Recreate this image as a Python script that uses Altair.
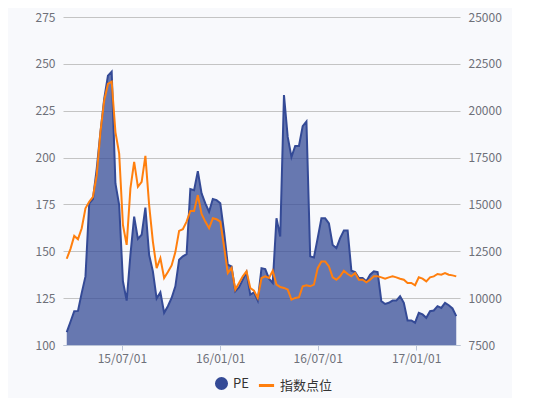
import altair as alt
import pandas as pd

START_DATE = "2015-03-20"

pe_values = [
    106.9, 112.4, 118.0, 118.2, 127.8, 136.6, 175.6, 177.9, 194.0, 213.6,
    231.3, 243.7, 245.8, 186.2, 174.7, 134.0, 123.7, 148.1, 168.5, 156.6,
    158.8, 173.3, 148.1, 139.3, 124.8, 128.1, 117.2, 120.7, 125.1, 131.3,
    145.5, 147.3, 148.5, 183.2, 182.6, 192.7, 180.9, 175.6, 171.1, 177.9,
    177.3, 175.6, 160.5, 142.8, 141.9, 128.7, 130.8, 134.9, 138.9, 126.9,
    128.1, 123.7, 141.0, 140.5, 135.4, 133.1, 167.6, 157.9, 233.4, 211.0,
    200.3, 206.2, 206.2, 216.8, 219.3, 147.3, 146.7, 157.0, 167.6, 167.6,
    164.9, 153.4, 151.7, 157.0, 161.1, 161.1, 139.6, 138.9, 135.7, 135.7,
    134.0, 137.5, 139.3, 138.9, 123.4, 121.9, 122.5, 123.7, 123.7, 126.0,
    122.5, 113.1, 113.1, 111.9, 117.2, 116.3, 114.5, 118.0, 118.4, 120.7,
    119.8, 122.5, 121.2, 119.5, 115.4,
]

index_values = [
    12101, 12632, 13322, 13145, 13729, 14790, 15145, 15410, 16560, 18861,
    20541, 21427, 21550, 18861, 17711, 13906, 12844, 15852, 17268, 15941,
    16206, 17587, 14967, 13021, 11605, 12136, 11075, 11393, 11747, 12455,
    13587, 13676, 14083, 14649, 14649, 15499, 14490, 14083, 13729, 14260,
    14207, 14083, 12756, 11340, 11605, 10455, 10809, 11163, 11429, 10544,
    10402, 10013, 11075, 11163, 11075, 11464, 10721, 10597, 10544, 10455,
    9924, 10013, 10048, 10632, 10686, 10632, 10721, 11600, 11959, 11959,
    11694, 11110, 10986, 11163, 11464, 11287, 11163, 11340, 10986, 10986,
    10845, 10986, 11163, 11163, 11110, 11039, 11110, 11163, 11110, 11039,
    10986, 10809, 10809, 10686, 11110, 11039, 10898, 11110, 11163, 11287,
    11252, 11340, 11252, 11216, 11163,
]

dates = [d.strftime("%Y-%m-%d") for d in pd.date_range(START_DATE, periods=len(pe_values), freq="7D")]

x_tick_dates = [(2015, 7, 1), (2016, 1, 1), (2016, 7, 1), (2017, 1, 1)]
pe_ticks = [100, 125, 150, 175, 200, 225, 250, 275]
idx_ticks = [7500, 10000, 12500, 15000, 17500, 20000, 22500, 25000]

df = pd.DataFrame({"date": dates, "PE": pe_values, "idx": index_values})

BLUE = "#344a96"
ORANGE = "#ff7f0e"
GRAY = "#6e7079"
FONT = "Noto Sans CJK SC"

x_enc = alt.X(
    "date:T",
    title=None,
    scale=alt.Scale(domain=[alt.DateTime(year=2015, month=3, date=13),
                            alt.DateTime(year=2017, month=3, date=24)]),
    axis=alt.Axis(
        values=[alt.DateTime(year=y, month=m, date=d) for (y, m, d) in x_tick_dates],
        format="%y/%m/%d",
        labelColor=GRAY,
        labelFontSize=12,
        labelFont=FONT,
        domainColor="#b9c3d6",
        tickColor="#b9c3d6",
        tickSize=5,
        labelPadding=3,
        grid=False,
    ),
)

pe_y = alt.Y(
    "PE:Q",
    title=None,
    scale=alt.Scale(domain=[100, 275], nice=False, zero=False),
    axis=alt.Axis(
        values=pe_ticks,
        orient="left",
        labelColor=GRAY,
        labelFontSize=12,
        labelFont=FONT,
        ticks=False,
        domain=False,
        labelPadding=8,
        grid=True,
        gridColor="#c4c4c4",
        gridWidth=1,
    ),
)

area = alt.Chart(df).mark_area(
    color=BLUE,
    fillOpacity=0.74,
).encode(
    x=x_enc,
    y=pe_y,
    y2=alt.Y2(datum=100),
    fill=alt.Fill(
        "s:N",
        scale=alt.Scale(domain=["PE"], range=[BLUE]),
        legend=alt.Legend(
            title=None,
            orient="none",
            legendX=151,
            legendY=359,
            symbolType="circle",
            symbolSize=170,
            symbolOpacity=1,
            labelFontSize=13,
            labelFont=FONT,
            labelColor="#333333",
            padding=0,
        ),
    ),
).transform_calculate(s="'PE'")

pe_line = alt.Chart(df).mark_line(color=BLUE, strokeWidth=2).encode(
    x=x_enc,
    y=pe_y,
)

pe_layer = alt.layer(area, pe_line)

line = alt.Chart(df).mark_line(strokeWidth=2).encode(
    x=x_enc,
    y=alt.Y(
        "idx:Q",
        title=None,
        scale=alt.Scale(domain=[7500, 25000], nice=False, zero=False),
        axis=alt.Axis(
            values=idx_ticks,
            format="d",
            orient="right",
            labelColor=GRAY,
            labelFontSize=12,
            labelFont=FONT,
            ticks=False,
            domain=False,
            labelPadding=8,
            grid=False,
        ),
    ),
    stroke=alt.Stroke(
        "s:N",
        scale=alt.Scale(domain=["指数点位"], range=[ORANGE]),
        legend=alt.Legend(
            title=None,
            orient="none",
            legendX=194,
            legendY=359,
            symbolType="stroke",
            symbolSize=230,
            symbolStrokeWidth=3,
            labelFontSize=13,
            labelFont=FONT,
            labelColor="#333333",
            padding=0,
        ),
    ),
).transform_calculate(s="'指数点位'")

chart = alt.layer(pe_layer, line).resolve_scale(
    y="independent", fill="independent", stroke="independent"
).properties(
    width=397,
    height=328,
    background="#f8f9fc",
    padding={"left": 27, "top": 3, "right": 10, "bottom": 10},
).configure_view(stroke=None)

chart.save("out.html", embed_options={"renderer": "svg", "actions": False})
